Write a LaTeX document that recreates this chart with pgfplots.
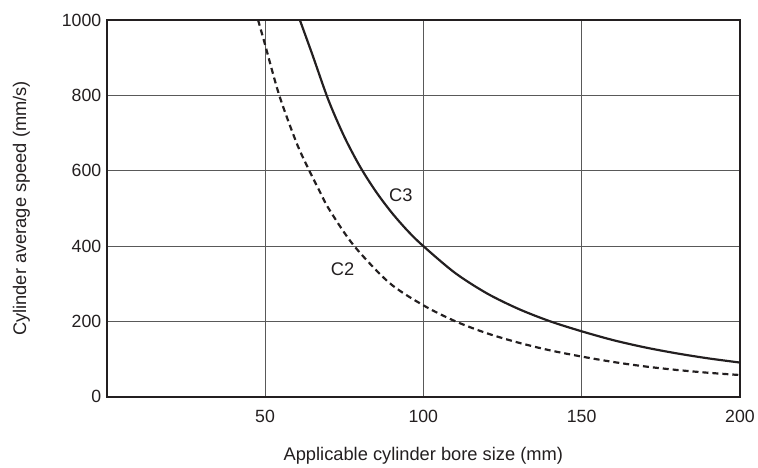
\documentclass[border=0pt]{standalone}
\usepackage{pgfplots}
\pgfplotsset{compat=1.18}
\usetikzlibrary{calc}
\usepackage{fontspec}
\setmainfont{Liberation Sans}
\definecolor{ink}{HTML}{231F20}
\begin{document}
\begin{tikzpicture}
\begin{axis}[
  name=ax,
  scale only axis,
  width=635bp, height=378bp,
  xmin=0, xmax=200, ymin=0, ymax=1000,
  xtick={50,100,150,200},
  ytick={0,200,400,600,800,1000},
  major tick length=0pt,
  grid=major,
  grid style={line width=0.7pt, color=black!65},
  axis line style={line width=2pt, color=ink},
  /pgf/number format/assume math mode=true,
  /pgf/number format/set thousands separator={},
  ticklabel style={font=\fontsize{17.8}{19}\selectfont, color=ink},
  xticklabel style={yshift=-10bp},
  yticklabel style={xshift=-2bp},
  label style={font=\fontsize{18.4}{20}\selectfont, color=ink},
  xlabel={Applicable cylinder bore size (mm)},
  ylabel={Cylinder average speed (mm/s)},
  xlabel style={at={($(axis description cs:0.5,0)+(0,-59bp)$)}, anchor=center},
  ylabel style={at={($(axis description cs:0,0.5)+(-85.5bp,0)$)}, anchor=center},
  clip=true,
]
\addplot[line width=2.2pt, color=ink, smooth] coordinates {
 (61,1000) (65,907) (70,788) (75,691) (80,611) (85,545) (90,489) (95,441) (100,400)
 (110,329) (120,275) (130,233.6) (140,200.6) (150,174) (160,150.5) (170,131.3)
 (180,115.5) (190,102.2) (200,91.1)
};
\addplot[line width=2.2pt, color=ink, smooth, dash pattern=on 6bp off 4bp] coordinates {
 (47.8,1000) (50,935) (54.5,800) (60,673) (64,600) (67.1,548) (70.3,497) (78,402)
 (89.2,303) (100,243) (110,201) (120,169) (130,144) (140,123.5) (150,107)
 (160,92.6) (170,80.8) (180,71.5) (190,64) (200,58)
};
\node[font=\fontsize{18.4}{20}\selectfont, color=ink] at (axis cs:92.9,536) {C3};
\node[font=\fontsize{18.4}{20}\selectfont, color=ink] at (axis cs:74.5,338) {C2};
\end{axis}
\path ([xshift=-107bp,yshift=-69bp]ax.south west) rectangle ([xshift=16bp,yshift=20bp]ax.north east);
\end{tikzpicture}
\end{document}
